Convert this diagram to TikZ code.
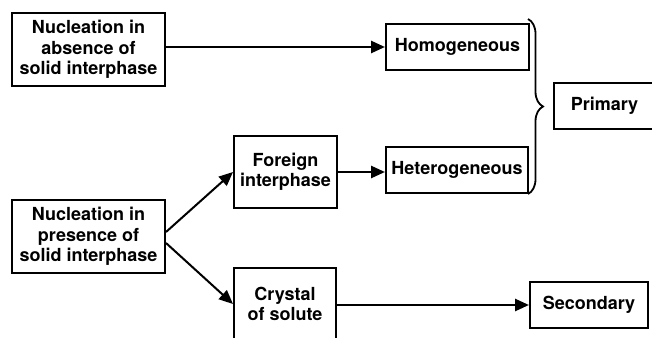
\documentclass[tikz,border=0pt]{standalone}
\usepackage{fontspec}
\setmainfont{TeX Gyre Heros}
\usetikzlibrary{arrows.meta,decorations.pathreplacing}
\begin{document}
\begin{tikzpicture}[x=1pt,y=-1pt,
  box/.style={draw,line width=2pt,rectangle,align=center,inner sep=0pt,
    font=\fontsize{18}{20.5}\selectfont\bfseries},
  arr/.style={line width=2.6pt,-{Triangle[length=14pt,width=12pt]}},
  darr/.style={line width=2pt,-{Triangle[length=14pt,width=12pt]}}]
\clip (0,0) rectangle (652,337);
\fill[white] (0,0) rectangle (652,337);
\node[box,minimum width=153pt,minimum height=73pt] (A) at (88.5,49.5) {Nucleation in\\absence of\\solid interphase};
\node[box,minimum width=153pt,minimum height=73pt] (B) at (88.5,236.5) {Nucleation in\\presence of\\solid interphase};
\node[box,minimum width=143pt,minimum height=46pt] (Hom) at (457.5,47) {Homogeneous};
\node[box,minimum width=142pt,minimum height=46pt] (Het) at (457,170) {Heterogeneous};
\node[box,minimum width=103pt,minimum height=72pt] (For) at (285.5,172) {Foreign\\interphase};
\node[box,minimum width=102pt,minimum height=72pt] (Cry) at (285,304) {Crystal\\of solute};
\node[box,minimum width=101pt,minimum height=46pt] (Pri) at (604.5,106) {Primary};
\node[box,minimum width=118pt,minimum height=46pt] (Sec) at (589,305) {Secondary};
\draw[arr] (A.east |- Hom.west) -- (Hom.west);
\draw[arr] (For.east) -- (For.east -| Het.west);
\draw[arr] (Cry.east |- Sec.west) -- (Sec.west);
\draw[darr] ([yshift=4.5pt]B.east) -- (For.west);
\draw[darr] ([yshift=-6.5pt]B.east) -- (Cry.west);
\coordinate (bt) at (528,19);
\coordinate (bb) at (528,194);
\draw[line width=1.8pt,decorate,decoration={brace,amplitude=15pt}] (bt) -- (bb);
\end{tikzpicture}
\end{document}
